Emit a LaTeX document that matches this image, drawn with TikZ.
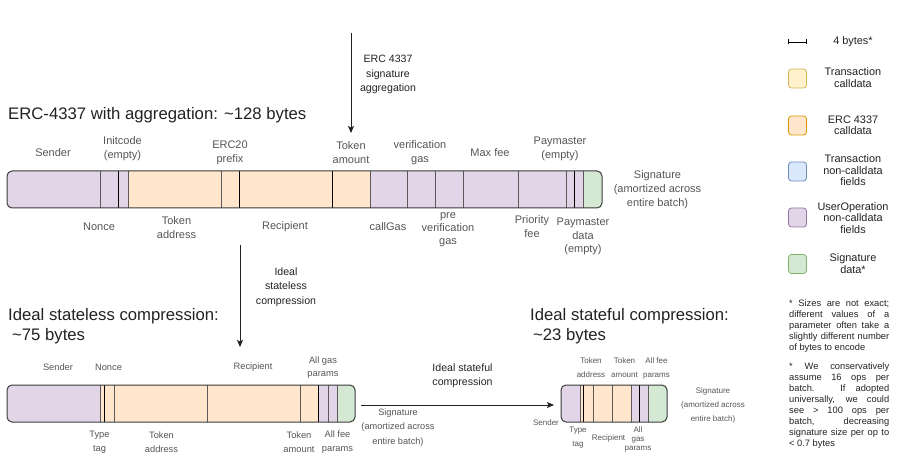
\documentclass[tikz,border=0pt]{standalone}
\usepackage{fontspec}
\setmainfont{Liberation Sans}
\usetikzlibrary{arrows.meta}
\definecolor{upurple}{HTML}{E1D5E7}
\definecolor{uorange}{HTML}{FFE6CC}
\definecolor{ugreen}{HTML}{D5E8D4}
\definecolor{uyellow}{HTML}{FFF2CC}
\definecolor{ublue}{HTML}{DAE8FC}
\definecolor{upurpled}{HTML}{9673A6}
\definecolor{uoranged}{HTML}{D79B00}
\definecolor{ugreend}{HTML}{82B366}
\definecolor{uyellowd}{HTML}{D6B656}
\definecolor{ublued}{HTML}{6C8EBF}
\definecolor{barc}{HTML}{3A3A3A}
\definecolor{divgray}{HTML}{5A5A5A}
\definecolor{lblc}{HTML}{555555}
\definecolor{darkc}{HTML}{222222}
\begin{document}
\begin{tikzpicture}[x=1pt,y=-1pt,
  barline/.style={draw=barc, line width=1pt, rounded corners=5pt},
  divg/.style={draw=divgray, line width=0.9pt},
  divk/.style={draw=black, line width=0.9pt},
  arr/.style={draw=darkc, line width=1pt, -{Stealth[length=7pt,width=6pt,inset=1.5pt]}},
  title/.style={font=\fontsize{16.7}{20}\selectfont, text=darkc, inner sep=0pt},
  lbl/.style={font=\fontsize{11}{14}\selectfont, text=lblc, align=center, inner sep=0pt},
  arrlbl/.style={font=\fontsize{10.6}{14.3}\selectfont, text=darkc, align=center, inner sep=0pt},
  lblm/.style={font=\fontsize{9.3}{14}\selectfont, text=lblc, align=center, inner sep=0pt},
  lbls/.style={font=\fontsize{8}{14}\selectfont, text=lblc, align=center, inner sep=0pt},
  lgbox/.style={minimum width=18pt, minimum height=19pt, rounded corners=3pt, line width=0.8pt, inner sep=0pt},
  lgtxt/.style={font=\fontsize{10.9}{11.5}\selectfont, text=darkc, align=center, inner sep=0pt},
  note/.style={font=\fontsize{9.3}{11}\selectfont, text=darkc, inner sep=0pt, anchor=base west}
]
\useasboundingbox (0,0) rectangle (919,473);

% ---------- Titles ----------
\node[title, anchor=base west] (t1) at (8,120) {ERC-4337 with aggregation: \textasciitilde128 bytes};
\node[title, anchor=base west] (t2) at (8,320) {Ideal stateless compression:};
\node[title, anchor=base west] (t3) at (12,341) {\textasciitilde75 bytes};
\node[title, anchor=base west] (t4) at (530,320) {Ideal stateful compression:};
\node[title, anchor=base west] (t5) at (533,341) {\textasciitilde23 bytes};

% ---------- Top bar ----------
\begin{scope}
\clip[rounded corners=5pt] (7,171) rectangle (602,208);
\fill[upurple] (7,171) rectangle (128,208);
\fill[uorange] (128,171) rectangle (370,208);
\fill[upurple] (370,171) rectangle (583,208);
\fill[ugreen] (583,171) rectangle (602,208);
\end{scope}
\foreach \x in {100,128,221,370,407,435,463,518,566,583} \draw[divg] (\x,171) -- (\x,208);
\foreach \x in {118,239,332,574} \draw[divk] (\x,171) -- (\x,208);
\draw[barline] (7,171) rectangle (602,208);

\node[lbl] (a1) at (53,153) {Sender};
\node[lbl] (a2) at (122.5,149) {Initcode\\(empty)};
\node[lbl] (a3) at (230,153) {ERC20\\prefix};
\node[lbl] (a4) at (351,153) {Token\\amount};
\node[lbl] (a5) at (420,153) {verification\\gas};
\node[lbl] (a6) at (490,153) {Max fee};
\node[lbl] (a7) at (560,149) {Paymaster\\(empty)};
\node[lbl] (a8) at (657.5,190) {Signature\\(amortized across\\entire batch)};
\node[lbl] (b1) at (99,227) {Nonce};
\node[lbl] (b2) at (176.5,227.5) {Token\\address};
\node[lbl] (b3) at (285,227) {Recipient};
\node[lbl] (b4) at (388,227) {callGas};
\node[lbl, font=\fontsize{11}{13.2}\selectfont] (b5) at (448,229.5) {pre\\verification\\gas};
\node[lbl] (b6) at (532,227) {Priority\\fee};
\node[lbl, font=\fontsize{11}{13.4}\selectfont] (b7) at (583,236.5) {Paymaster\\data\\(empty)};

% ---------- Arrows ----------
\coordinate (s1) at (351,33);
\coordinate (e1) at (351,133);
\draw[arr] (s1) -- (e1);
\node[arrlbl] (al1) at (388,74.5) {ERC 4337\\signature\\aggregation};

\coordinate (s2) at (240,245);
\coordinate (e2) at (240,347);
\draw[arr] (s2) -- (e2);
\node[arrlbl] (al2) at (286,287) {Ideal\\stateless\\compression};

\coordinate (s3) at (361,405);
\coordinate (e3) at (554,405);
\draw[arr] (s3) -- (e3);
\node[arrlbl] (al3) at (462.5,376) {Ideal stateful\\compression};
\node[lblm, font=\fontsize{9.2}{14.3}\selectfont] (al4) at (398,427.5) {Signature\\(amortized across\\entire batch)};

% ---------- Bottom-left bar ----------
\begin{scope}
\clip[rounded corners=5pt] (7,385) rectangle (355,422);
\fill[upurple] (7,385) rectangle (100,422);
\fill[uorange] (100,385) rectangle (318,422);
\fill[upurple] (318,385) rectangle (337,422);
\fill[ugreen] (337,385) rectangle (355,422);
\end{scope}
\foreach \x in {100,114,207,300,328,337} \draw[divg] (\x,385) -- (\x,422);
\foreach \x in {104,318} \draw[divk] (\x,385) -- (\x,422);
\draw[barline] (7,385) rectangle (355,422);

\node[lblm] (c1) at (58,367) {Sender};
\node[lblm] (c2) at (108.5,367) {Nonce};
\node[lblm] (c3) at (253,367) {Recipient};
\node[lblm, font=\fontsize{9.3}{13.6}\selectfont] (c4) at (323,367.5) {All gas\\params};
\node[lblm] (d1) at (99.5,442) {Type\\tag};
\node[lblm] (d2) at (161.5,442) {Token\\address};
\node[lblm] (d3) at (299,442) {Token\\amount};
\node[lblm] (d4) at (337.5,442) {All fee\\params};

% ---------- Bottom-right bar ----------
\begin{scope}
\clip[rounded corners=5pt] (561,385) rectangle (667,422);
\fill[upurple] (561,385) rectangle (580,422);
\fill[uorange] (580,385) rectangle (631,422);
\fill[upurple] (631,385) rectangle (648,422);
\fill[ugreen] (648,385) rectangle (667,422);
\end{scope}
\foreach \x in {580,593,612,631,648} \draw[divg] (\x,385) -- (\x,422);
\foreach \x in {583,639} \draw[divk] (\x,385) -- (\x,422);
\draw[barline] (561,385) rectangle (667,422);

\node[lbls] (e1l) at (591,368) {Token\\address};
\node[lbls] (e2l) at (624.5,368) {Token\\amount};
\node[lbls] (e3l) at (656.5,368) {All fee\\params};
\node[lbls] (e4l) at (713,405) {Signature\\(amortized across\\entire batch)};
\node[lbls] (f1) at (546,423) {Sender};
\node[lbls] (f2) at (578,438) {Type\\tag};
\node[lbls] (f3) at (608.5,438) {Recipient};
\node[lbls, font=\fontsize{8}{9.3}\selectfont] (f4) at (638,439.5) {All\\gas\\params};

% ---------- Legend ----------
\coordinate (m1) at (788,42);
\coordinate (m2) at (807,42);
\draw[line width=0.8pt, {Bar[width=5pt]}-{Bar[width=5pt]}] (m1) -- (m2);
\node[lgtxt] (g0) at (853,42) {4 bytes*};

\node[lgbox, fill=uyellow, draw=uyellowd] (k1) at (797.5,78.5) {};
\node[lgtxt] (g1) at (853,77.5) {Transaction\\calldata};
\node[lgbox, fill=uorange, draw=uoranged] (k2) at (797.5,125.5) {};
\node[lgtxt] (g2) at (853,125) {ERC 4337\\calldata};
\node[lgbox, fill=ublue, draw=ublued] (k3) at (797.5,171.5) {};
\node[lgtxt] (g3) at (853,170.5) {Transaction\\non-calldata\\fields};
\node[lgbox, fill=upurple, draw=upurpled] (k4) at (797.5,217.5) {};
\node[lgtxt] (g4) at (853,218) {UserOperation\\non-calldata\\fields};
\node[lgbox, fill=ugreen, draw=ugreend] (k5) at (797.5,264) {};
\node[lgtxt] (g5) at (853,263.5) {Signature\\data*};

% ---------- Notes ----------
\node[note] (n1) at (789,306) {\makebox[100pt][s]{* Sizes are not exact;}};
\node[note] (n2) at (789,317) {\makebox[100pt][s]{different values of a}};
\node[note] (n3) at (789,328) {\makebox[100pt][s]{parameter often take a}};
\node[note] (n4) at (789,339) {\makebox[100pt][s]{slightly different number}};
\node[note] (n5) at (789,350) {of bytes to encode};
\node[note] (n6) at (789,369) {\makebox[100pt][s]{* We conservatively}};
\node[note] (n7) at (789,380) {\makebox[100pt][s]{assume 16 ops per}};
\node[note] (n8) at (789,391) {\makebox[100pt][s]{batch. If adopted}};
\node[note] (n9) at (789,402) {\makebox[100pt][s]{universally, we could}};
\node[note] (n10) at (789,413) {\makebox[100pt][s]{see > 100 ops per}};
\node[note] (n11) at (789,424) {\makebox[100pt][s]{batch, decreasing}};
\node[note] (n12) at (789,435) {\makebox[100pt][s]{signature size per op to}};
\node[note] (n13) at (789,446) {< 0.7 bytes};
\end{tikzpicture}
\end{document}
